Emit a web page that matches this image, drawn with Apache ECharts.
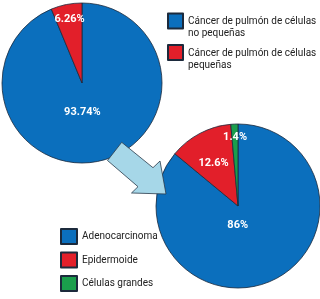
<!DOCTYPE html>
<html>
<head>
<meta charset="utf-8">
<script src="https://cdn.jsdelivr.net/npm/echarts@6/dist/echarts.min.js"></script>
<style>
html,body{margin:0;padding:0;background:#fff;}
#c{width:320px;height:299px;}
</style>
</head>
<body>
<div id="c"></div>
<script>
const topCategories = ['Cáncer de pulmón de células\nno pequeñas', 'Cáncer de pulmón de células\npequeñas'];
const topValues = [93.74, 6.26];
const bottomCategories = ['Adenocarcinoma', 'Epidermoide', 'Células grandes'];
const bottomValues = [86, 12.6, 1.4];

const BLUE = '#0b6fbd', RED = '#e21f2a', GREEN = '#1a9e4c', EDGE = '#1c2a3c';
const FONT = 'Roboto, "Liberation Sans", Arial, sans-serif';

const topColors = [BLUE, RED];
const bottomColors = [BLUE, RED, GREEN];
const topShift = [[-8, -13], [-4, -22]];
const bottomShift = [[-19, -21], [-4, -4], [-1, -25]];

function mk(names, vals, colors) {
  return names.map((n, i) => ({ name: n, value: vals[i], itemStyle: { color: colors[i] } }));
}

const labelStyle = {
  show: true, position: 'inside', formatter: '{c}%',
  color: '#fff', fontWeight: 'bold', fontSize: 11, fontFamily: FONT
};

const chart = echarts.init(document.getElementById('c'), null, { renderer: 'canvas' });
chart.setOption({
  animation: false,
  backgroundColor: '#fff',
  legend: [
    {
      data: topCategories, orient: 'vertical', left: 167, top: 8, padding: 0,
      icon: 'rect', itemWidth: 15, itemHeight: 15, itemGap: 1,
      selectedMode: false,
      formatter: name => '{s| }\n' + name.split('\n').map(l => '{a|' + l + '}').join('\n'),
      textStyle: {
        fontFamily: FONT, fontSize: 10, color: '#222',
        rich: {
          s: { fontSize: 2, lineHeight: 13, fontFamily: FONT },
          a: { fontSize: 10, lineHeight: 12, color: '#222', fontFamily: FONT }
        }
      }
    },
    {
      data: bottomCategories, orient: 'vertical', left: 60, top: 228, padding: 0,
      icon: 'rect', itemWidth: 16, itemHeight: 15, itemGap: 6.5,
      selectedMode: false,
      textStyle: { fontFamily: FONT, fontSize: 10, lineHeight: 12, color: '#222' }
    }
  ],
  graphic: [{
    type: 'polygon', z: 20,
    shape: { points: [[121.7, 142.3], [153, 167.7], [160, 161], [166, 194], [131.5, 193], [138, 186.7], [107.5, 160.5]] },
    style: { fill: '#a6d7e8', stroke: '#2a3a4a', lineWidth: 0.8 }
  }],
  series: [
    {
      type: 'pie', z: 3, center: [82, 83], radius: 80, startAngle: 90, clockwise: true,
      silent: true, avoidLabelOverlap: false,
      itemStyle: { borderColor: EDGE, borderWidth: 0.8 },
      label: labelStyle, labelLine: { show: false },
      labelLayout: p => ({ dx: topShift[p.dataIndex][0], dy: topShift[p.dataIndex][1] }),
      data: mk(topCategories, topValues, topColors)
    },
    {
      type: 'pie', z: 2, center: [238, 206], radius: 82, startAngle: 90, clockwise: true,
      silent: true, avoidLabelOverlap: false,
      itemStyle: { borderColor: EDGE, borderWidth: 0.8 },
      label: labelStyle, labelLine: { show: false },
      labelLayout: p => ({ dx: bottomShift[p.dataIndex][0], dy: bottomShift[p.dataIndex][1] }),
      data: mk(bottomCategories, bottomValues, bottomColors)
    }
  ]
});
</script>
</body>
</html>
